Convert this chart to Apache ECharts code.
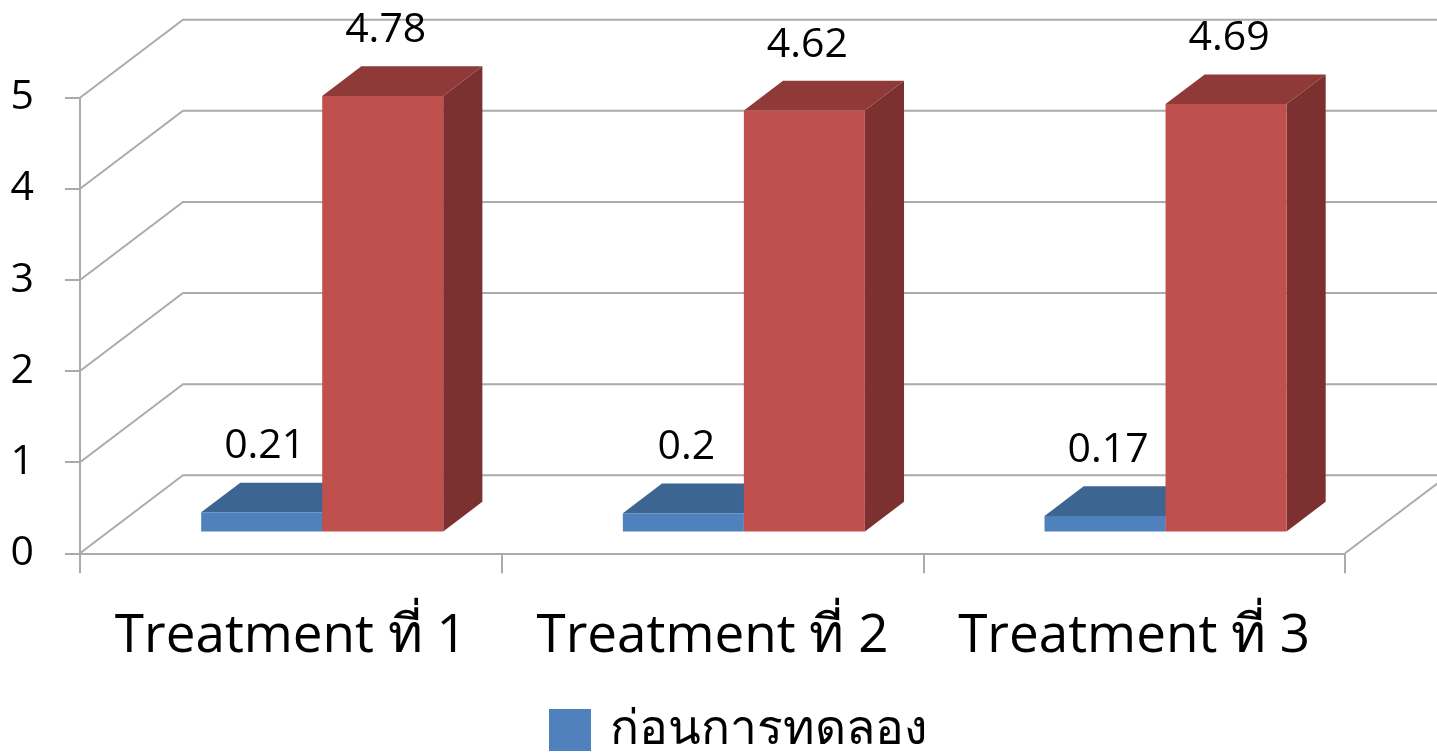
<!DOCTYPE html>
<html>
<head>
<meta charset="utf-8">
<title>Treatment</title>
<script src="https://cdn.jsdelivr.net/npm/echarts@6/dist/echarts.min.js"></script>
<style>
  html, body { margin: 0; padding: 0; background: #ffffff; }
  #chart { width: 1437px; height: 754px; }
</style>
</head>
<body>
<div id="chart"></div>
<script>
// ---- data ----
const categories = ['Treatment ที่ 1', 'Treatment ที่ 2', 'Treatment ที่ 3'];
const beforeValues = [0.21, 0.2, 0.17];
const afterValues = [4.78, 4.62, 4.69];
const seriesNames = ['ก่อนการทดลอง', 'หลังการทดลอง'];
const yTicks = [0, 1, 2, 3, 4, 5];

// ---- 3D look: oblique projection of the floor depth ----
const DEPTH_X = 103;      // horizontal shift from the front plane to the back wall
const DEPTH_Y = -78;      // vertical shift from the front plane to the back wall
const BAR_FRONT = 0.28;   // depth fraction where the bar front faces sit
const BAR_BACK = 0.66;    // depth fraction where the bar back faces sit
const SLOT_START = 0.219; // start of the first bar inside a category band
const SLOT_WIDTH = 0.287; // width of one bar inside a category band

const FONT = '"Open Sans", "Noto Sans", "DejaVu Sans", sans-serif';
const GRID_COLOR = '#ABABAB';

const palette = [
  { front: '#4F81BD', top: '#3C6591', side: '#34587F' },
  { front: '#C0504D', top: '#8F3938', side: '#7C3030' }
];

function shift(p, f) {
  return [p[0] + DEPTH_X * f, p[1] + DEPTH_Y * f];
}

// back wall + side wall grid lines and the floor's right edge
function renderWalls(params, api) {
  const v = api.value(0);
  const nCat = categories.length;
  const fl = api.coord([0, v]);
  const fr = api.coord([nCat, v]);
  const bl = shift(fl, 1);
  const br = shift(fr, 1);
  const line = { stroke: GRID_COLOR, lineWidth: 2, fill: null };
  const children = [{
    type: 'polyline',
    shape: { points: [fl, bl, br] },
    style: line,
    silent: true
  }];
  if (v === 0) {
    children.push({
      type: 'polyline',
      shape: { points: [fr, br] },
      style: line,
      silent: true
    });
  }
  return { type: 'group', children: children };
}

function makeBarRenderer(seriesIdx) {
  return function (params, api) {
    const cat = api.value(0);
    const val = api.value(1);
    const x0 = cat + SLOT_START + seriesIdx * SLOT_WIDTH;
    const x1 = x0 + SLOT_WIDTH;
    const c = palette[seriesIdx];

    // front face corners on the bar plane
    const bl = shift(api.coord([x0, 0]), BAR_FRONT);
    const br = shift(api.coord([x1, 0]), BAR_FRONT);
    const tl = shift(api.coord([x0, val]), BAR_FRONT);
    const tr = shift(api.coord([x1, val]), BAR_FRONT);
    const d = BAR_BACK - BAR_FRONT;
    const tlb = shift(tl, d), trb = shift(tr, d), brb = shift(br, d);

    const labelX = (tl[0] + tr[0]) / 2 + 3;
    const labelY = tlb[1] - 36;

    return {
      type: 'group',
      children: [
        {
          type: 'polygon',
          shape: { points: [tr, trb, brb, br] },
          style: { fill: c.side }
        },
        {
          type: 'polygon',
          shape: { points: [tl, tlb, trb, tr] },
          style: { fill: c.top }
        },
        {
          type: 'polygon',
          shape: { points: [tl, tr, br, bl] },
          style: { fill: c.front }
        },
        {
          type: 'text',
          x: labelX,
          y: labelY,
          style: {
            text: String(val),
            fill: '#000000',
            fontSize: 41,
            fontFamily: FONT,
            align: 'center',
            verticalAlign: 'middle'
          },
          z2: 10
        }
      ]
    };
  };
}

const chart = echarts.init(document.getElementById('chart'), null, { renderer: 'canvas' });

chart.setOption({
  backgroundColor: '#ffffff',
  animation: false,
  textStyle: { fontFamily: FONT },
  grid: { left: 80, right: 92, top: 97.7, bottom: 200.7, containLabel: false },
  legend: {
    data: [seriesNames[0]],
    left: 544,
    top: 700,
    icon: 'rect',
    itemWidth: 42,
    itemHeight: 42,
    textStyle: { fontSize: 48, lineHeight: 50, color: '#000000', fontFamily: FONT, padding: [0, 0, 0, 14] }
  },
  xAxis: [
    {
      type: 'category',
      data: categories,
      boundaryGap: true,
      axisLine: { show: true, lineStyle: { color: GRID_COLOR, width: 2 } },
      axisTick: { show: true, length: 20, interval: 0, lineStyle: { color: GRID_COLOR, width: 2 } },
      axisLabel: { interval: 0, fontSize: 53, margin: 57, color: '#000000', fontFamily: FONT },
      splitLine: { show: false }
    },
    {
      type: 'value',
      min: 0,
      max: categories.length,
      show: false
    }
  ],
  yAxis: {
    type: 'value',
    min: yTicks[0],
    max: yTicks[yTicks.length - 1],
    interval: 1,
    axisLine: { show: true, lineStyle: { color: GRID_COLOR, width: 2 } },
    axisTick: { show: true, length: 15, lineStyle: { color: GRID_COLOR, width: 2 } },
    axisLabel: { fontSize: 41, margin: 46, color: '#000000', fontFamily: FONT },
    splitLine: { show: false }
  },
  series: [
    {
      type: 'custom',
      name: 'walls',
      xAxisIndex: 1,
      yAxisIndex: 0,
      clip: false,
      silent: true,
      z: 1,
      renderItem: renderWalls,
      data: yTicks.map(function (t) { return [t]; }),
      encode: { y: 0 }
    },
    {
      type: 'custom',
      name: seriesNames[0],
      xAxisIndex: 1,
      yAxisIndex: 0,
      clip: false,
      z: 2,
      itemStyle: { color: palette[0].front },
      renderItem: makeBarRenderer(0),
      data: beforeValues.map(function (v, i) { return [i, v]; }),
      encode: { x: 0, y: 1 }
    },
    {
      type: 'custom',
      name: seriesNames[1],
      xAxisIndex: 1,
      yAxisIndex: 0,
      clip: false,
      z: 3,
      itemStyle: { color: palette[1].front },
      renderItem: makeBarRenderer(1),
      data: afterValues.map(function (v, i) { return [i, v]; }),
      encode: { x: 0, y: 1 }
    }
  ]
});
</script>
</body>
</html>
